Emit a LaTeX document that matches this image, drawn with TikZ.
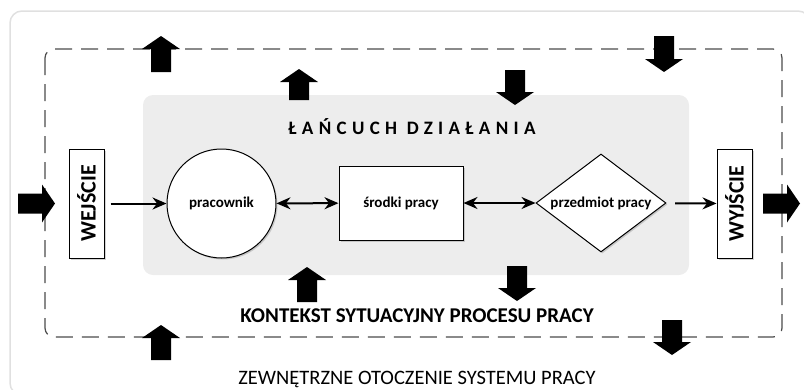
\documentclass[tikz,border=0pt]{standalone}
\usepackage{fontspec}
\setmainfont{Carlito}
\newfontfamily\spacedfont[LetterSpace=28]{Carlito}
\usetikzlibrary{arrows.meta,shapes.geometric,shadows}
\tikzset{
	fatarrow/.pic={\fill[black] (0,-10) -- (#1-13,-10) -- (#1-13,-19) -- (#1,0) -- (#1-13,19) -- (#1-13,10) -- (0,10) -- cycle;},
	shade/.style={drop shadow={opacity=0.35,shadow xshift=1.5pt,shadow yshift=-1.5pt}},
	iobox/.style={draw, line width=1pt, fill=white, inner sep=0pt, minimum width=35pt, minimum height=109pt, shade},
	elem/.style={draw, line width=1pt, fill=white, inner sep=0pt, font=\bfseries\fontsize{15}{17}\selectfont, shade},
	conn/.style={line width=2pt, -{Stealth[length=14pt,width=12pt]}},
	bothconn/.style={line width=2pt, {Stealth[length=14pt,width=12pt]}-{Stealth[length=14pt,width=12pt]}},
}

\begin{document}
\begin{tikzpicture}[x=1pt, y=-1pt]
		%%%%% START %%%%%
		\useasboundingbox (0,0) rectangle (804,389);
		
		\draw[line width=1.5pt, color=black!12, rounded corners=12pt] (10,11) rectangle (810,395);
		\draw[line width=1.2pt, color=black!70, rounded corners=9pt, dash pattern=on 17pt off 9pt] (45,49) rectangle (782,337);
		\fill[color=black!7, rounded corners=10pt] (143,95) rectangle (689,275);
		
		\node[font=\spacedfont\bfseries\fontsize{19}{22}\selectfont] (chain) at (412,127) {ŁAŃCUCH DZIAŁANIA};
		\node[font=\bfseries\fontsize{21}{24}\selectfont] (context) at (417,316) {KONTEKST SYTUACYJNY PROCESU PRACY};
		\node[font=\fontsize{20.5}{24}\selectfont] (outside) at (417,379) {ZEWNĘTRZNE OTOCZENIE SYSTEMU PRACY};
		
		\node[iobox] (input) at (86.5,203.5) {\rotatebox{90}{\bfseries\fontsize{22}{24}\selectfont WEJŚCIE}};
		\node[iobox] (output) at (734.5,203.5) {\rotatebox{90}{\bfseries\fontsize{22}{24}\selectfont WYJŚCIE}};
		
		\node[elem, circle, minimum size=109pt] (worker) at (221.5,203.5) {pracownik};
		\node[elem, rectangle, minimum width=124pt, minimum height=74pt] (means) at (401,203) {środki pracy};
		\node[elem, diamond, aspect=1.33, minimum width=130pt, minimum height=98pt] (object) at (601,203) {przedmiot pracy};
		
		\draw[conn, shorten <=6pt] (input) -- (worker);
		\draw[bothconn] (worker) -- (means);
		\draw[bothconn] (means) -- (object);
		\draw[conn, shorten <=9pt] (object) -- (output);
		
		% wide arrows
		\pic at (18,203.5) {fatarrow=37};
		\pic at (763,203.5) {fatarrow=37};
		\pic[rotate=90] at (161,72) {fatarrow=36};
		\pic[rotate=90] at (299,100) {fatarrow=31};
		\pic[rotate=-90] at (515,70) {fatarrow=35};
		\pic[rotate=-90] at (664,36) {fatarrow=36};
		\pic[rotate=90] at (307,302) {fatarrow=35};
		\pic[rotate=-90] at (517,266) {fatarrow=35};
		\pic[rotate=90] at (161,360) {fatarrow=35};
		\pic[rotate=-90] at (672,320) {fatarrow=35};
		%%%%% END %%%%%
	\end{tikzpicture}
\end{document}
